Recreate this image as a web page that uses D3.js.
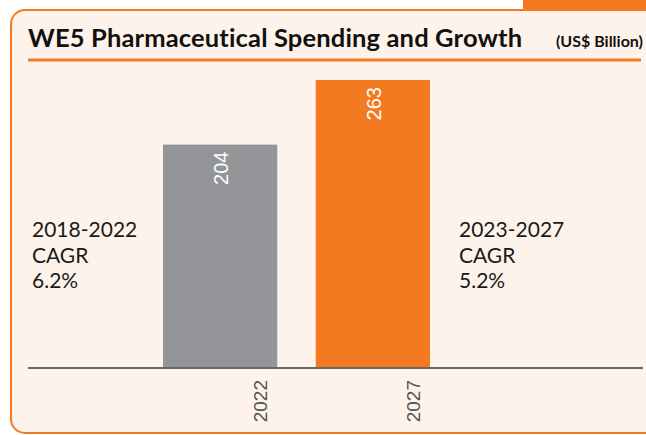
<!DOCTYPE html>
<html>
<head>
<meta charset="utf-8">
<script src="https://cdn.jsdelivr.net/npm/d3@7"></script>
<style>
  html, body { margin: 0; padding: 0; background: #fff; }
  svg { display: block; }
</style>
</head>
<body>
<div id="chart"></div>
<script>
'use strict';

// ─── Data ─────────────────────────────────────────────────────────────────────
const years     = ['2022', '2027'];
const spending  = [204, 263];
const barColors = ['#939598', '#f47a22'];

const leftNote  = ['2018-2022', 'CAGR', '6.2%'];
const rightNote = ['2023-2027', 'CAGR', '5.2%'];

const titleText = 'WE5 Pharmaceutical Spending and Growth';
const unitText  = '(US$ Billion)';

// ─── Setup ────────────────────────────────────────────────────────────────────
const W = 646, H = 435;
const ORANGE = '#f47a22';
const PANEL  = '#fef3ea';
const baseY  = 368;

const svg = d3.select('#chart').append('svg').attr('width', W).attr('height', H);

// tab + panel
svg.append('rect').attr('x', 523).attr('y', 0).attr('width', W - 523).attr('height', 10).attr('fill', ORANGE);
svg.append('rect')
  .attr('x', 11).attr('y', 10).attr('width', W + 20).attr('height', H - 12)
  .attr('rx', 14)
  .attr('fill', PANEL).attr('stroke', ORANGE).attr('stroke-width', 2);

// title
svg.append('text')
  .attr('x', 28).attr('y', 47)
  .attr('font-family', 'Lato, sans-serif').attr('font-weight', 700)
  .attr('font-size', 25.5).attr('letter-spacing', 0.15).attr('fill', '#111')
  .text(titleText);
svg.append('text')
  .attr('x', 643).attr('y', 47).attr('text-anchor', 'end')
  .attr('font-family', 'Lato, sans-serif').attr('font-weight', 700)
  .attr('font-size', 16).attr('fill', '#111')
  .text(unitText);
svg.append('line')
  .attr('x1', 28).attr('x2', 641).attr('y1', 60).attr('y2', 60)
  .attr('stroke', ORANGE).attr('stroke-width', 3);

// ─── Scales ───────────────────────────────────────────────────────────────────
const x = d3.scaleBand().domain(years).range([163, 430]).paddingInner(0.252).paddingOuter(0);
const y = d3.scaleLinear().domain([0, d3.max(spending)]).range([baseY, 80]);

// bars
const bars = svg.append('g').selectAll('g')
  .data(years.map((yr, i) => ({ yr, v: spending[i], c: barColors[i] })))
  .join('g');

bars.append('rect')
  .attr('x', d => x(d.yr))
  .attr('y', d => y(d.v))
  .attr('width', x.bandwidth())
  .attr('height', d => baseY - y(d.v))
  .attr('fill', d => d.c);

bars.append('text')
  .attr('transform', d => `translate(${x(d.yr) + x.bandwidth() / 2 + 8},${y(d.v) + 7}) rotate(-90)`)
  .attr('text-anchor', 'end')
  .attr('font-family', 'Liberation Sans, Arial, sans-serif')
  .attr('font-size', 20).attr('fill', '#fff')
  .text(d => d.v);

// axis
svg.append('line')
  .attr('x1', 28).attr('x2', 643).attr('y1', baseY).attr('y2', baseY)
  .attr('stroke', '#666').attr('stroke-width', 2);

const axis = svg.append('g')
  .attr('transform', `translate(0,${baseY})`)
  .call(d3.axisBottom(x).tickSize(0));
axis.select('.domain').remove();
axis.selectAll('text')
  .attr('transform', 'rotate(-90)')
  .attr('text-anchor', 'end')
  .attr('x', -12).attr('y', 47).attr('dy', 0)
  .attr('font-family', 'Liberation Sans, Arial, sans-serif')
  .attr('font-size', 19).attr('fill', '#555');

// CAGR notes
function note(lines, xPos) {
  svg.append('g').selectAll('text')
    .data(lines)
    .join('text')
    .attr('x', xPos)
    .attr('y', (d, i) => 237 + i * 25.5)
    .attr('font-family', 'Lato, sans-serif')
    .attr('font-size', 21).attr('fill', '#1a1a1a')
    .text(d => d);
}
note(leftNote, 32);
note(rightNote, 459);
</script>
</body>
</html>
